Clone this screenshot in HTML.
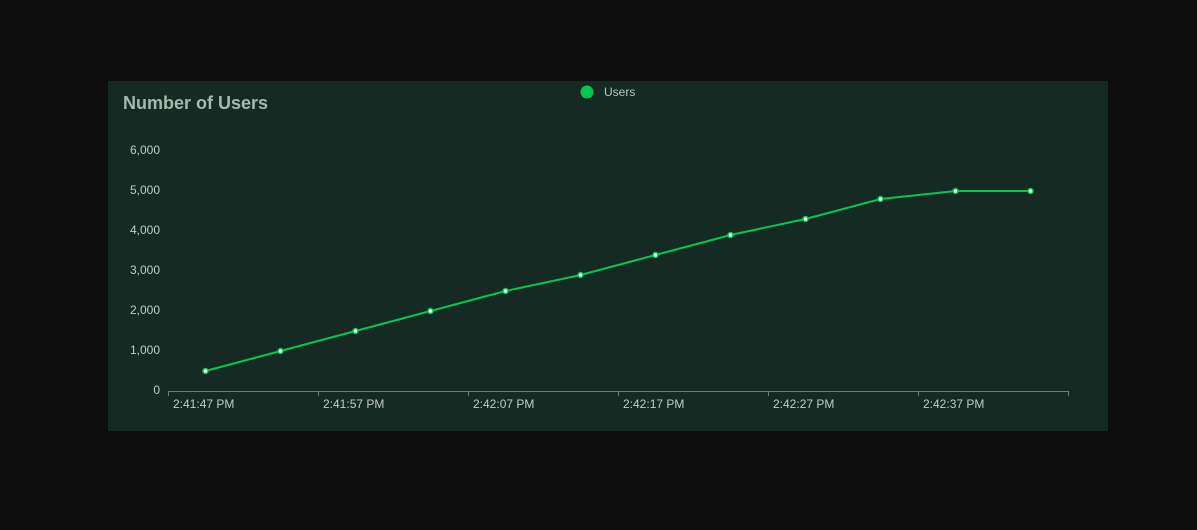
<!DOCTYPE html>
<html><head><meta charset="utf-8"><style>
body{margin:0;background:#0e0e0e;width:1197px;height:525px;overflow:hidden;font-family:"Liberation Sans",sans-serif;}
</style></head><body>
<svg id="c" width="1197" height="525">
<rect x="108" y="81" width="1000" height="350" fill="#142a22"/>
<text x="123" y="109" font-size="18" font-weight="bold" fill="#a6b8ae">Number of Users</text>
<circle cx="587" cy="92" r="6.5" fill="#00c853"/>
<text x="604" y="96" font-size="12" fill="#b8c4bd">Users</text>
<g id="g"></g>
</svg>
<script>
const values=[500,1000,1500,2000,2500,2900,3400,3900,4300,4800,5000,5000];
const times=[2.5,7.5,12.5,17.5,22.5,27.5,32.5,37.5,42.5,47.5,52.5,57.5];
const yTicks=[0,1000,2000,3000,4000,5000,6000];
const xTicks=[0,10,20,30,40,50,60];
const xTickLabels=["2:41:47 PM","2:41:57 PM","2:42:07 PM","2:42:17 PM","2:42:27 PM","2:42:37 PM",""];
const NS="http://www.w3.org/2000/svg";
const g=document.getElementById('g');
const X=t=>168+t*15;
const Y=v=>391-v*0.04;
function mk(tag,attrs){const e=document.createElementNS(NS,tag);for(const k in attrs)e.setAttribute(k,attrs[k]);g.appendChild(e);return e;}
yTicks.forEach(v=>{
 const t=mk('text',{x:160,y:Y(v)+3,'text-anchor':'end','font-size':12,fill:'#c2ccc6'});
 t.textContent=v.toLocaleString('en-US');
 
 
});
const ax=mk('line',{x1:X(0),x2:X(60),y1:391.5,y2:391.5,stroke:'#6f7f77','stroke-width':1});


xTicks.forEach((t,i)=>{
 const l=mk('line',{x1:X(t)+0.5,x2:X(t)+0.5,y1:391,y2:396,stroke:'#6f7f77'});
 
 
 if(xTickLabels[i]){
  const tx=mk('text',{x:X(t)+5,y:408,'font-size':12,fill:'#c2ccc6'});
  tx.textContent=xTickLabels[i];
  
  
 }
});
const line=mk('polyline',{points:values.map((v,i)=>X(times[i])+','+Y(v)).join(' '),fill:'none',stroke:'#00c853','stroke-width':2});


values.forEach((v,i)=>{
 const c=mk('circle',{cx:X(times[i]),cy:Y(v),r:2.5,fill:'#ffffff',stroke:'#00c853','stroke-width':1.5});
 
 
});
</script>
</body></html>
